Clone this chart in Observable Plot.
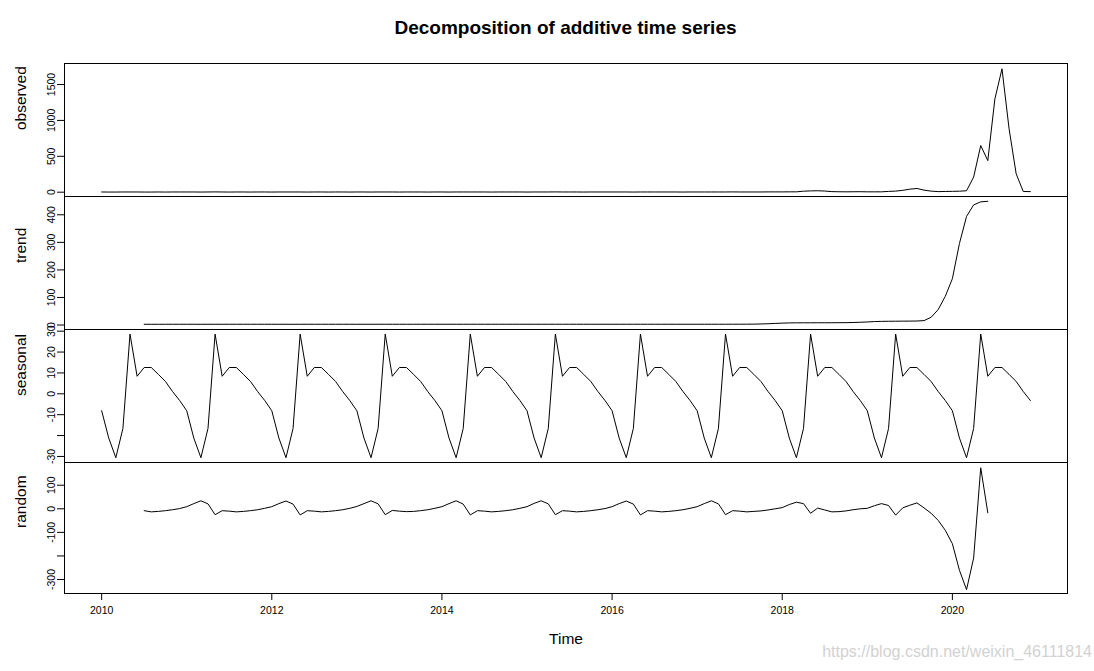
<!DOCTYPE html>
<html><head><meta charset="utf-8">
<script src="https://cdn.jsdelivr.net/npm/d3@7"></script>
<script src="https://cdn.jsdelivr.net/npm/@observablehq/plot@0.6"></script>
<style>
body{margin:0;background:#fff;}
#chart{position:relative;width:1094px;height:671px;font-family:"Liberation Sans",Arial,sans-serif;overflow:hidden;}
.panel{position:absolute;left:0;}
.panel svg{overflow:visible;display:block;}
#title{position:absolute;left:0;top:17px;width:1131px;text-align:center;font-weight:bold;font-size:19px;line-height:22px;color:#000;}
#mark{position:absolute;right:2px;top:643px;font-size:16px;line-height:18px;color:#d2d2d2;}
</style></head><body>
<div id="chart"><div id="title">Decomposition of additive time series</div><div id="mark">https://blog.csdn.net/weixin_46111814</div></div>
<script>
// ---- data (monthly series, start 2010, frequency 12) ----
const startYear = 2010;
const frequency = 12;
const observed = [
  3,2,2,3,3,3,2,2,3,2,3,3,
  3,3,2,3,4,3,2,3,3,2,3,3,
  2,3,3,3,3,2,3,3,2,3,3,2,
  3,3,2,3,3,3,2,3,3,3,2,3,
  3,2,3,3,3,3,3,2,3,3,3,3,
  2,3,3,3,4,3,3,3,2,3,3,3,
  3,3,3,2,3,3,3,3,3,3,2,3,
  3,3,3,3,3,4,3,3,3,3,4,4,
  4,5,5,14,18,20,16,8,6,5,6,7,
  5,5,5,11,15,26,42,52,29,15,8,10,
  12,14,20,210,650,440,1300,1719,883,256,10,8
];
const trend = [
  null,null,null,null,null,null,2.6,2.6,2.6,2.7,2.7,2.7,
  2.7,2.7,2.6,2.7,2.7,2.7,2.7,2.8,2.7,2.7,2.7,2.7,
  2.7,2.7,2.7,2.6,2.7,2.7,2.7,2.7,2.7,2.7,2.7,2.7,
  2.7,2.7,2.7,2.7,2.8,2.7,2.7,2.7,2.7,2.8,2.8,2.8,
  2.8,2.8,2.7,2.8,2.8,2.8,2.8,2.7,2.8,2.8,2.8,2.8,
  2.8,2.8,2.8,2.8,2.8,2.8,2.8,2.8,2.8,2.8,2.8,2.8,
  2.8,2.8,2.8,2.8,2.8,2.8,2.8,2.8,2.8,2.8,2.8,2.8,
  2.8,2.8,2.8,2.8,2.8,2.9,2.9,3.0,3.2,3.8,4.6,5.8,
  6.8,7.6,7.9,8.0,8.0,8.1,8.1,8.2,8.4,8.5,9.2,10.0,
  11.0,12.5,13.2,13.6,13.8,14.0,14.2,14.5,16,28,56,104,
  168,296,394,436,447,449,null,null,null,null,null,null
];
const seasonalFigure = [-8.1,-21.2,-30.6,-16.6,28.6,8.4,12.6,12.6,9.3,5.9,1.1,-3.2];
const random = [
  null,null,null,null,null,null,-8,-13,-11,-8,-4,1,
  9,22,34,21,-25,-8,-10,-13,-11,-8,-4,2,
  9,22,33,20,-26,-8,-10,-13,-11,-8,-4,2,
  10,22,34,21,-25,-7,-10,-12,-11,-8,-4,2,
  9,22,34,20,-26,-8,-10,-13,-11,-8,-4,2,
  9,23,34,21,-25,-8,-10,-13,-11,-8,-4,1,
  9,22,33,20,-26,-8,-10,-13,-11,-8,-4,2,
  9,22,34,21,-25,-8,-10,-13,-11,-9,-5,0,
  5,18,28,22,-19,3,-5,-13,-12,-9,-4,0,
  2,13,22,14,-27,4,15,25,4,-19,-49,-91,
  -148,-261,-343,-209,174,-17,null,null,null,null,null,null
];
const xTicks = [2010,2012,2014,2016,2018,2020];
const observedTicks = [0,500,1000,1500];
const observedLabels = [0,500,1000,1500];
const trendTicks = [0,100,200,300,400];
const trendLabels = [0,100,200,300,400];
const seasonalTicks = [-30,-20,-10,0,10,20,30];
const seasonalLabels = [-30,-10,0,10,20,30];
const randomTicks = [-300,-200,-100,0,100];
const randomLabels = [-300,-100,0,100];

// ---- build ----
const nMonths = observed.length;
const seasonal = Array.from({length: nMonths}, (_, i) => seasonalFigure[i % frequency]);
const toRows = vals => vals.map((v, i) => ({t: startYear + i / frequency, v})).filter(d => d.v != null);

const layout = [
  {name: "observed", values: observed, ticks: observedTicks, labels: observedLabels, top: 63, h: 133, domain: [-60, 1793]},
  {name: "trend", values: trend, ticks: trendTicks, labels: trendLabels, top: 196, h: 133, domain: [-16.3, 466.4]},
  {name: "seasonal", values: seasonal, ticks: seasonalTicks, labels: seasonalLabels, top: 329, h: 133, domain: [-32.9, 30.8]},
  {name: "random", values: random, ticks: randomTicks, labels: randomLabels, top: 462, h: 131, domain: [-359.3, 196.4]}
];
const xDomain = [2009.5633, 2021.3534];
const chart = document.getElementById("chart");
const font = '"Liberation Sans", Arial, sans-serif';

layout.forEach((p, k) => {
  const last = k === layout.length - 1;
  const mb = last ? 70 : 0;
  const svg = Plot.plot({
    width: 1094,
    height: p.h + mb,
    marginLeft: 64, marginRight: 27, marginTop: 0, marginBottom: mb,
    style: {fontFamily: font, color: "black", background: "transparent", overflow: "visible"},
    x: {domain: xDomain, axis: null},
    y: {domain: p.domain, axis: null},
    marks: [
      Plot.frame({stroke: "black", strokeWidth: 1}),
      Plot.axisY({ticks: p.ticks, tickFormat: d => p.labels.includes(d) ? String(d) : "", tickSize: 7, tickPadding: 3, tickRotate: -90, fontSize: 10.5, label: null}),
      Plot.text([p.name], {frameAnchor: "left", dx: -39, rotate: -90, fontSize: 15.5, lineAnchor: "bottom"}),
      Plot.line(toRows(p.values), {x: "t", y: "v", stroke: "black", strokeWidth: 1}),
      last ? Plot.axisX({ticks: xTicks, tickFormat: d => String(d), tickSize: 7, tickPadding: 6, fontSize: 10.5, label: null}) : null,
      last ? Plot.text(["Time"], {frameAnchor: "bottom", dy: 46, fontSize: 15.5, lineAnchor: "middle"}) : null
    ]
  });
  const div = document.createElement("div");
  div.className = "panel";
  div.style.top = p.top + "px";
  div.appendChild(svg);
  chart.appendChild(div);
});
</script>
</body></html>
